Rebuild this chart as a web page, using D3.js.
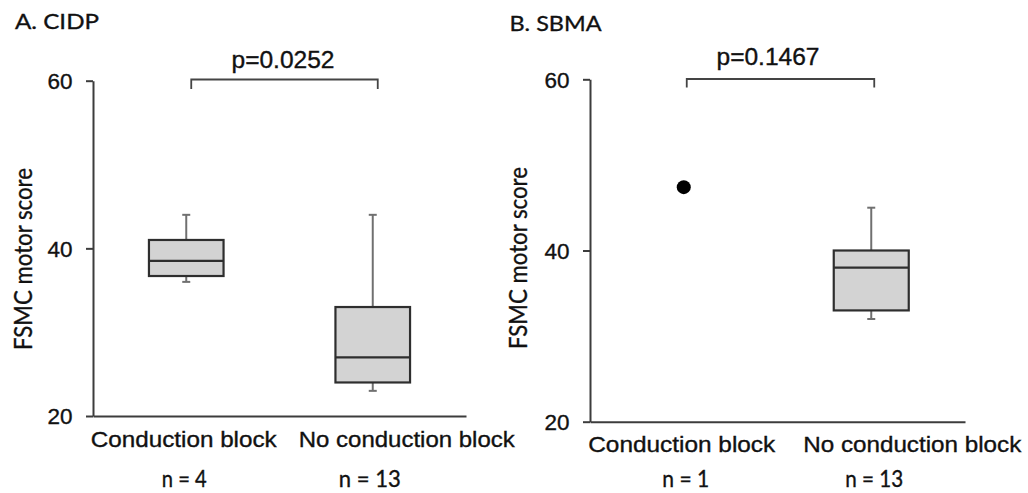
<!DOCTYPE html>
<html>
<head>
<meta charset="utf-8">
<script src="https://cdn.jsdelivr.net/npm/d3@7"></script>
<style>
  html, body { margin: 0; padding: 0; background: #fff; }
  svg { display: block; }
  text { stroke: #111; stroke-width: 0.35px; paint-order: stroke; }
</style>
</head>
<body>
<svg id="chart" width="1028" height="493"></svg>
<script>
// ---------- data ----------
const panelTitles = ["A. CIDP", "B. SBMA"];
const categories = ["Conduction block", "No conduction block"];
const yTicks = [20, 40, 60];
const pLabels = ["p=0.0252", "p=0.1467"];
const cidpCounts = ["n = 4", "n = 13"];
const sbmaCounts = ["n = 1", "n = 13"];
// box statistics
const cidpBoxes = [
  { cat: "Conduction block",    min: 36, q1: 36.7, median: 38.5, q3: 41, max: 44 },
  { cat: "No conduction block", min: 23, q1: 24,   median: 27,   q3: 33, max: 44 }
];
const sbmaBoxes = [
  { cat: "No conduction block", min: 32, q1: 33, median: 38, q3: 40, max: 45 }
];
const sbmaPoints = [
  { cat: "Conduction block", value: 47.4 }
];
const yLabel = "FSMC motor score";

// ---------- layout ----------
const svg = d3.select("#chart");
const AX = "Liberation Sans, Arial, sans-serif";
const CAL = "Lato, 'Open Sans', sans-serif";

const panels = [
  { title: panelTitles[0], titleX: 15, titleY: 29, titleW: 84,
    axisX: 93, xEnd: 466, yTop: 80.7, yBot: 416,
    boxes: cidpBoxes, points: [], counts: cidpCounts, p: pLabels[0],
    pX: 283, pY: 68, brY: 79.5, brDrop: 9.5, brDx: 5,
    ylabX: 32, ylabY: 259, catY: 447, catDx: [-2.5, 34], catW: [186, 216],
    nY: 487, nDx: [-2, -3], nW: [45, 62] },
  { title: panelTitles[1], titleX: 509.5, titleY: 31, titleW: 92,
    axisX: 590, xEnd: 965, yTop: 79.3, yBot: 421.7,
    boxes: sbmaBoxes, points: sbmaPoints, counts: sbmaCounts, p: pLabels[1],
    pX: 768, pY: 65, brY: 79, brDrop: 8.5, brDx: 3,
    ylabX: 526.5, ylabY: 258, catY: 452, catDx: [-2, 41], catW: [187, 218],
    nY: 487, nDx: [2, 3], nW: [47, 58] }
];

const axisColor = "#3c3c3c";

panels.forEach(P => {
  const g = svg.append("g");
  const y = d3.scaleLinear().domain([20, 60]).range([P.yBot, P.yTop]);
  const x = d3.scaleBand().domain(categories).range([P.axisX, P.xEnd]);
  const cx = c => x(c) + x.bandwidth() / 2;
  const bw = x.bandwidth() * 0.4;

  // title
  g.append("text").text(P.title)
    .attr("x", P.titleX).attr("y", P.titleY)
    .attr("font-family", CAL).attr("font-size", 22).attr("fill", "#111")
    .attr("textLength", P.titleW).attr("lengthAdjust", "spacingAndGlyphs");

  // y axis
  const yAxis = g.append("g")
    .attr("transform", `translate(${P.axisX},0)`)
    .call(d3.axisLeft(y).tickValues(yTicks).tickSize(7).tickSizeOuter(0).tickPadding(13.5));
  yAxis.select(".domain").attr("stroke", axisColor).attr("stroke-width", 2);
  yAxis.selectAll(".tick line").attr("stroke", axisColor).attr("stroke-width", 2);
  yAxis.selectAll(".tick text")
    .attr("font-family", AX).attr("font-size", 22).attr("fill", "#111")
    .attr("dy", "0.36em")
    .attr("textLength", 25).attr("lengthAdjust", "spacingAndGlyphs");

  // x axis
  const xAxis = g.append("g")
    .attr("transform", `translate(0,${P.yBot})`)
    .call(d3.axisBottom(x).tickSize(0).tickSizeOuter(0).tickFormat(""));
  xAxis.select(".domain").attr("stroke", axisColor).attr("stroke-width", 2);

  // category labels and counts
  categories.forEach((c, i) => {
    g.append("text").text(c)
      .attr("x", cx(c) + P.catDx[i]).attr("y", P.catY)
      .attr("text-anchor", "middle")
      .attr("font-family", AX).attr("font-size", 22).attr("fill", "#111")
      .attr("textLength", P.catW[i]).attr("lengthAdjust", "spacingAndGlyphs");
    g.append("text").text(P.counts[i])
      .attr("x", cx(c) + P.nDx[i]).attr("y", P.nY)
      .attr("text-anchor", "middle")
      .attr("font-family", CAL).attr("font-size", 23).attr("fill", "#111")
      .attr("textLength", P.nW[i]).attr("lengthAdjust", "spacingAndGlyphs");
  });

  // y label
  g.append("text").text(yLabel)
    .attr("transform", `translate(${P.ylabX},${P.ylabY}) rotate(-90)`)
    .attr("text-anchor", "middle")
    .attr("font-family", CAL).attr("font-size", 25).attr("fill", "#111")
    .attr("textLength", 182).attr("lengthAdjust", "spacingAndGlyphs");

  // significance bracket
  const x1 = cx(categories[0]) + P.brDx, x2 = cx(categories[1]) + P.brDx;
  g.append("path")
    .attr("d", `M${x1},${P.brY + P.brDrop}V${P.brY}H${x2}V${P.brY + P.brDrop}`)
    .attr("fill", "none").attr("stroke", "#444").attr("stroke-width", 1.8);
  g.append("text").text(P.p)
    .attr("x", P.pX).attr("y", P.pY).attr("text-anchor", "middle")
    .attr("font-family", AX).attr("font-size", 23).attr("fill", "#111")
    .attr("textLength", 103).attr("lengthAdjust", "spacingAndGlyphs");

  // boxes
  P.boxes.forEach(b => {
    const c = cx(b.cat);
    const capW = 8;
    const wh = g.append("g").attr("stroke", "#707070").attr("stroke-width", 2);
    wh.append("line").attr("x1", c).attr("x2", c).attr("y1", y(b.max)).attr("y2", y(b.q3));
    wh.append("line").attr("x1", c).attr("x2", c).attr("y1", y(b.q1)).attr("y2", y(b.min));
    wh.append("line").attr("x1", c - capW / 2).attr("x2", c + capW / 2).attr("y1", y(b.max)).attr("y2", y(b.max));
    wh.append("line").attr("x1", c - capW / 2).attr("x2", c + capW / 2).attr("y1", y(b.min)).attr("y2", y(b.min));
    g.append("rect")
      .attr("x", c - bw / 2).attr("width", bw)
      .attr("y", y(b.q3)).attr("height", y(b.q1) - y(b.q3))
      .attr("fill", "#d3d3d3").attr("stroke", "#2e2e2e").attr("stroke-width", 2.2);
    g.append("line")
      .attr("x1", c - bw / 2).attr("x2", c + bw / 2)
      .attr("y1", y(b.median)).attr("y2", y(b.median))
      .attr("stroke", "#2e2e2e").attr("stroke-width", 2.2);
  });

  // single points
  P.points.forEach(p => {
    g.append("circle")
      .attr("cx", cx(p.cat)).attr("cy", y(p.value)).attr("r", 7)
      .attr("fill", "#000");
  });
});
</script>
</body>
</html>
